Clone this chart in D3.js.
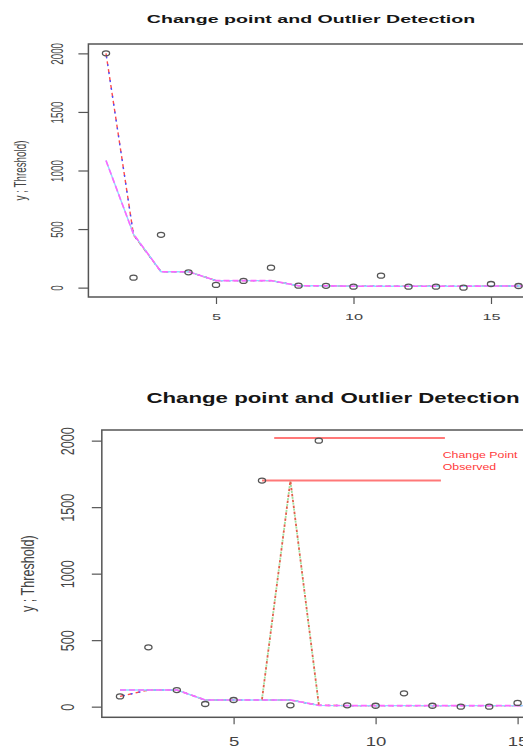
<!DOCTYPE html>
<html>
<head>
<meta charset="utf-8">
<script src="https://cdn.jsdelivr.net/npm/d3@7"></script>
<style>
  body { margin: 0; background: #fff; }
  text { font-family: "Liberation Sans", Arial, sans-serif; }
</style>
</head>
<body>
<svg id="chart"></svg>
<script>
var width = 523;
var height = 747;

// observation index on the x axis
var obs = [1, 2, 3, 4, 5, 6, 7, 8, 9, 10, 11, 12, 13, 14, 15, 16, 17];
var yTicks = [0, 500, 1000, 1500, 2000];
var xTicks = [5, 10, 15];
var title = 'Change point and Outlier Detection';
var yLabel = 'y ; Threshold)';

// top panel: observations and the two fitted threshold lines
var topY    = [2000, 85, 451, 131, 23, 57, 170, 17, 15, 8, 102, 8, 8, 0, 31, 14, 10];
var topFitA = [2000, 450, 136, 136, 60, 60, 60, 16, 16, 12, 12, 12, 12, 12, 14, 14, 14];
var topFitB = [1085, 457, 136, 136, 60, 60, 60, 16, 16, 12, 12, 12, 12, 12, 14, 14, 14];

// bottom panel
var botY    = [77, 446, 125, 20, 50, 1700, 10, 2000, 10, 7, 100, 7, 0, 0, 28, 10, 6];
var botFitA = [77, 125, 125, 50, 50, 50, 50, 10, 8, 8, 8, 8, 8, 8, 8, 8, 8];
var botFitB = [125, 125, 125, 50, 50, 50, 50, 10, 8, 8, 8, 8, 8, 8, 8, 8, 8];
var spikeX  = [6, 7, 8];
var spikeY  = [55, 1700, 15];
// change point markers
var cpStart = [6.43, 6.0];
var cpEnd   = [12.44, 12.3];
var cpLevel = [2020, 1700];
var cpText  = ['Change Point', 'Observed'];

var svg = d3.select('#chart')
    .attr('width', width)
    .attr('height', height);

function drawPanel(p) {
    var x = d3.scaleLinear().domain([1, 17]).range([p.x0, p.x0 + 16 * p.unit]);
    var y = d3.scaleLinear().domain([-80, 2080]).range([p.bottom, p.top]);
    var g = svg.append('g');
    var left = x(0.36);

    // title
    g.append('text')
        .attr('transform', `translate(${p.titleX},${p.titleY}) scale(${p.sx},${p.sy})`)
        .attr('text-anchor', 'middle')
        .attr('dominant-baseline', 'central')
        .attr('font-size', 14.4)
        .attr('font-weight', 'bold')
        .attr('fill', '#151515')
        .text(title);

    // y label
    g.append('text')
        .attr('transform', `translate(${p.yLabX},${(p.top + p.bottom) / 2}) scale(${p.sx},${p.sy}) rotate(-90)`)
        .attr('text-anchor', 'middle')
        .attr('dominant-baseline', 'central')
        .attr('font-size', 12)
        .attr('fill', '#444')
        .text(yLabel);

    // axes
    var ya = g.append('g')
        .attr('transform', `translate(${left},0)`)
        .call(d3.axisLeft(y).tickValues(yTicks).tickFormat(d3.format('d')).tickSize(p.tick + 3));
    ya.select('.domain').remove();
    ya.selectAll('line').attr('stroke', '#555').attr('stroke-width', 1.2);
    ya.selectAll('text')
        .attr('x', null).attr('dy', null)
        .attr('transform', `translate(${p.tickLabX - left},0) scale(${p.sx},${p.sy}) rotate(-90)`)
        .attr('text-anchor', 'middle')
        .attr('dominant-baseline', 'central')
        .attr('font-size', 12)
        .attr('fill', '#444');

    var xa = g.append('g')
        .attr('transform', `translate(0,${p.bottom})`)
        .call(d3.axisBottom(x).tickValues(xTicks).tickFormat(d3.format('d')).tickSize(p.tick));
    xa.select('.domain').remove();
    xa.selectAll('line').attr('stroke', '#555').attr('stroke-width', 1.2);
    xa.selectAll('text')
        .attr('y', null).attr('dy', null)
        .attr('transform', `translate(0,${p.xLabY - p.bottom}) scale(${p.sx},${p.sy})`)
        .attr('text-anchor', 'middle')
        .attr('dominant-baseline', 'central')
        .attr('font-size', 12)
        .attr('fill', '#444');

    // plot box
    g.append('rect')
        .attr('x', left)
        .attr('y', p.top)
        .attr('width', x(17.64) - left)
        .attr('height', p.bottom - p.top)
        .attr('fill', 'none')
        .attr('stroke', '#555')
        .attr('stroke-width', 1.5);

    var line = d3.line().x((d, i) => x(obs[i])).y(d => y(d));

    // fitted lines (overlapping coloured dashes)
    g.append('path').attr('d', line(p.fitA)).attr('fill', 'none')
        .attr('stroke', '#ff4a4a').attr('stroke-width', 1.4).attr('stroke-dasharray', '4,4');
    g.append('path').attr('d', line(p.fitA)).attr('fill', 'none')
        .attr('stroke', '#4a4aff').attr('stroke-width', 1.4).attr('stroke-dasharray', '2,6')
        .attr('stroke-dashoffset', 5);
    g.append('path').attr('d', line(p.fitB)).attr('fill', 'none')
        .attr('stroke', '#8fdcff').attr('stroke-width', 1.4);
    g.append('path').attr('d', line(p.fitB)).attr('fill', 'none')
        .attr('stroke', '#ff66ff').attr('stroke-width', 1.6).attr('stroke-dasharray', '6,3');

    if (p.spike) {
        var sline = d3.line().x((d, i) => x(spikeX[i])).y(d => y(d));
        g.append('path').attr('d', sline(spikeY)).attr('fill', 'none')
            .attr('stroke', '#9fe09f').attr('stroke-width', 1.8).attr('stroke-dasharray', '2,4')
            .attr('stroke-dashoffset', 3);
        g.append('path').attr('d', sline(spikeY)).attr('fill', 'none')
            .attr('stroke', '#e0604a').attr('stroke-width', 1.8).attr('stroke-dasharray', '2.5,3.5');

        g.selectAll('.cp')
            .data(cpLevel)
            .enter()
            .append('line')
                .classed('cp', true)
                .attr('x1', (d, i) => x(cpStart[i]))
                .attr('x2', (d, i) => x(cpEnd[i]))
                .attr('y1', d => y(d))
                .attr('y2', d => y(d))
                .attr('stroke', '#ff7878')
                .attr('stroke-width', 2);

        g.selectAll('.cptext')
            .data(cpText)
            .enter()
            .append('text')
                .classed('cptext', true)
                .attr('transform', (d, i) => `translate(${p.noteX},${p.noteY + i * 12}) scale(${p.sx},${p.sy})`)
                .attr('dominant-baseline', 'central')
                .attr('font-size', 8)
                .attr('fill', '#ff3a3a')
                .text(d => d);
    }

    // observations
    g.selectAll('.pt')
        .data(p.values)
        .enter()
        .append('ellipse')
            .classed('pt', true)
            .attr('cx', (d, i) => x(obs[i]))
            .attr('cy', d => y(d))
            .attr('rx', 3.6)
            .attr('ry', 2.5)
            .attr('fill', 'none')
            .attr('stroke', '#555')
            .attr('stroke-width', 1.3);
}

drawPanel({
    x0: 106, unit: 27.5, top: 44, bottom: 297, tick: 7,
    titleX: 311, titleY: 19, sx: 1.36, sy: 0.82,
    tickLabX: 57.5, xLabY: 317, yLabX: 21,
    values: topY, fitA: topFitA, fitB: topFitB, spike: false
});

drawPanel({
    x0: 120, unit: 28.4, top: 430, bottom: 717.3, tick: 7,
    titleX: 333, titleY: 398, sx: 1.545, sy: 1.05,
    tickLabX: 68, xLabY: 741.5, yLabX: 28,
    values: botY, fitA: botFitA, fitB: botFitB, spike: true,
    noteX: 442.7, noteY: 455
});
</script>
</body>
</html>
